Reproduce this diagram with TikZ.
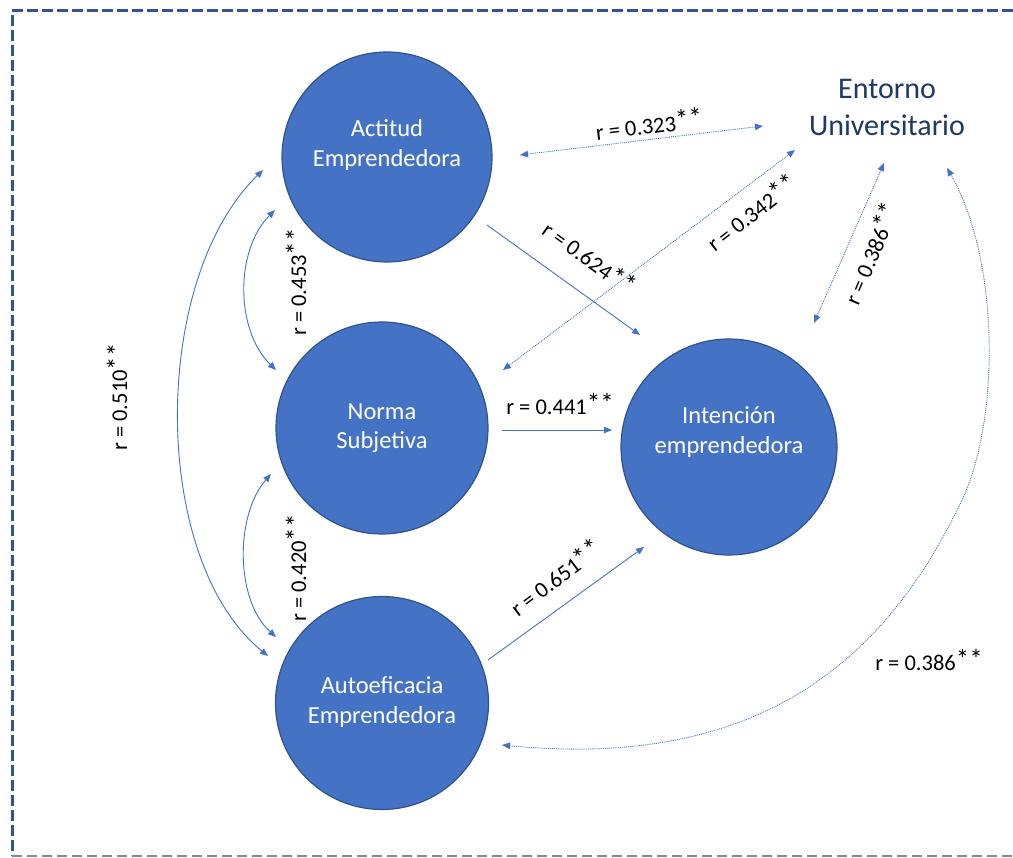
\documentclass[tikz,border=0pt]{standalone}
\usepackage{fontspec}
\setmainfont{Carlito}
\usetikzlibrary{arrows.meta}
\definecolor{cfill}{HTML}{4472C4}
\definecolor{cdraw}{HTML}{2F528F}
\definecolor{lnc}{HTML}{4472C4}
\definecolor{bord}{HTML}{2F5597}
\definecolor{bordg}{HTML}{7F8A9E}
\definecolor{navy}{HTML}{1F3864}
\newcommand{\stars}{\raisebox{0.1ex}{\scalebox{1.2}{**}}}
\begin{document}
\begin{tikzpicture}[x=1pt,y=-1pt,
  circ/.style={circle, fill=cfill, draw=cdraw, line width=1.2pt, minimum size=#1, inner sep=0pt},
  ctext/.style={text=white, align=center, font=\fontsize{24.5}{29.5}\selectfont},
  lab/.style={font=\fontsize{22.5}{27}\selectfont, inner sep=0pt},
  conn/.style={draw=lnc, line width=0.9pt, -{Triangle[length=8pt,width=6.5pt]}},
  bconn/.style={draw=lnc, line width=0.9pt, {Triangle[length=8pt,width=6.5pt]}-{Triangle[length=8pt,width=6.5pt]}},
  dotline/.style={densely dotted}
]
\useasboundingbox (0,0) rectangle (1013,858);
% border
\draw[bord, line width=3pt, dash pattern=on 11pt off 4pt] (1013,11) -- (12,11) -- (12,856);
\draw[bordg, line width=2pt, dash pattern=on 10pt off 5pt] (12,856) -- (1013,856);

% circles
\node[circ=210pt] (act) at (387,157) {};
\node[ctext] (actt) at (387,145) {Actitud\\Emprendedora};
\node[circ=212pt] (nor) at (382,428) {};
\node[ctext] (nort) at (382,428) {Norma\\Subjetiva};
\node[circ=213pt] (aut) at (382,703) {};
\node[ctext] (autt) at (382,702) {Autoeficacia\\Emprendedora};
\node[circ=216pt] (int) at (729,447) {};
\node[ctext] (intt) at (729,432) {Intención\\emprendedora};
\node[text=navy, align=center, font=\fontsize{30}{37}\selectfont] (ent) at (887,107) {Entorno\\Universitario};

% connector end points
\coordinate (a1) at (520,155); \coordinate (e1) at (763,126);
\coordinate (n1) at (503,370); \coordinate (e2) at (795,150);
\coordinate (a2) at (487,225); \coordinate (i1) at (640,335);
\coordinate (n2) at (502,430); \coordinate (i2) at (612,430);
\coordinate (u1) at (488,660); \coordinate (i3) at (644,547);
\coordinate (i4) at (814,323); \coordinate (e3) at (884,163);
\coordinate (e4) at (947,168); \coordinate (u2) at (502,745);
\coordinate (a3) at (275,210); \coordinate (n3) at (276,370);
\coordinate (n4) at (271,474); \coordinate (u3) at (276,637);
\coordinate (a4) at (263,170); \coordinate (u4) at (268,656);

% connectors
\draw[bconn, dotline] (a1) -- (e1);
\draw[bconn, dotline] (n1) -- (e2);
\draw[conn] (a2) -- (i1);
\draw[conn] (n2) -- (i2);
\draw[conn] (u1) -- (i3);
\draw[bconn, dotline] (i4) -- (e3);
\draw[bconn, dotline] (e4) .. controls (1000,260) and (1000,420) .. (962,500)
   .. controls (886,660) and (760,770) .. (u2);
\draw[bconn] (a3) .. controls (235,250) and (235,330) .. (n3);
\draw[bconn] (n4) .. controls (235,515) and (235,600) .. (u3);
\draw[bconn] (a4) .. controls (150,280) and (150,560) .. (u4);

% labels
\node[lab, rotate=7] (l1) at (649,124) {r = 0.323\stars};
\node[lab, rotate=38] (l2) at (751,212) {r = 0.342\stars};
\node[lab, rotate=-36] (l3) at (590,257) {r = 0.624\stars};
\node[lab] (l4) at (560,404) {r = 0.441\stars};
\node[lab, rotate=37] (l5) at (555,577) {r = 0.651\stars};
\node[lab, rotate=67] (l6) at (870,253) {r = 0.386\stars};
\node[lab] (l7) at (929,660) {r = 0.386\stars};
\node[lab, rotate=90] (l8) at (296,282) {r = 0.453\stars};
\node[lab, rotate=90] (l9) at (296,568) {r = 0.420\stars};
\node[lab, rotate=90] (l10) at (117,397) {r = 0.510\stars};
\end{tikzpicture}
\end{document}
